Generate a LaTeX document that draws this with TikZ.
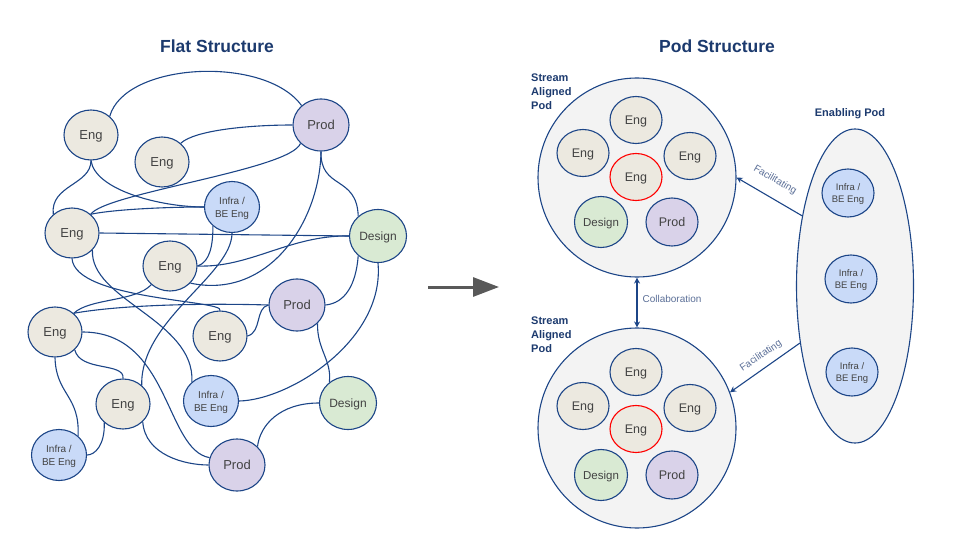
\documentclass[tikz,border=0pt]{standalone}
\usepackage{fontspec}
\setmainfont{Liberation Sans}
\usetikzlibrary{shapes.geometric,arrows.meta}
\definecolor{linkblue}{HTML}{1C4587}
\definecolor{titleblue}{HTML}{1C3A6E}
\definecolor{bodygrey}{HTML}{434343}
\definecolor{labelblue}{HTML}{5B6F97}
\definecolor{engfill}{HTML}{ECE9E0}
\definecolor{prodfill}{HTML}{D9D2E9}
\definecolor{infrafill}{HTML}{C9DAF8}
\definecolor{designfill}{HTML}{D9EAD3}
\definecolor{podfill}{HTML}{F3F3F3}
\tikzset{
  peer/.style={ellipse,draw=linkblue,line width=1.1pt,inner sep=0pt,text=bodygrey,text depth=0pt},
  eng/.style={peer,fill=engfill,minimum width=54pt,minimum height=50pt,font=\fontsize{13}{15}\selectfont},
  prod/.style={peer,fill=prodfill,minimum width=56pt,minimum height=52pt,font=\fontsize{13}{15}\selectfont},
  infra/.style={peer,fill=infrafill,minimum width=55pt,minimum height=51pt,align=center,font=\fontsize{10}{13}\selectfont},
  design/.style={peer,fill=designfill,minimum width=57pt,minimum height=53pt,font=\fontsize{12}{14}\selectfont},
  podeng/.style={eng,minimum width=52pt,minimum height=47pt,font=\fontsize{12.5}{15}\selectfont},
  podprod/.style={prod,minimum width=52pt,minimum height=48pt,font=\fontsize{12.5}{15}\selectfont},
  poddesign/.style={design,minimum width=53pt,minimum height=51pt,font=\fontsize{11.5}{14}\selectfont},
  podinfra/.style={infra,minimum width=52pt,minimum height=48pt,font=\fontsize{9.5}{12.5}\selectfont},
  lead/.style={podeng,draw=red},
  pod/.style={ellipse,draw=linkblue,line width=1.1pt,fill=podfill,inner sep=0pt},
  link/.style={draw=linkblue,line width=1.1pt},
  relation/.style={link,-{Stealth[length=6pt,width=6pt]}},
  title/.style={text=titleblue,font=\fontsize{17.5}{20}\bfseries},
  podname/.style={text=titleblue,align=left,inner sep=0pt,font=\fontsize{11}{14}\bfseries},
  relname/.style={text=labelblue,font=\fontsize{10}{12}\selectfont},
}
\begin{document}
\begin{tikzpicture}[x=1pt,y=-1pt]
  \useasboundingbox (0,0) rectangle (960,540);

  % Titles
  \node[title] (flattitle) at (217,46) {Flat Structure};
  \node[title] (podtitle) at (717,46) {Pod Structure};

  % Flat structure
  \node[eng] (eng1) at (91,135) {Eng};
  \node[eng] (eng2) at (162,162) {Eng};
  \node[eng] (eng3) at (72,233) {Eng};
  \node[eng] (eng4) at (170,266) {Eng};
  \node[eng] (eng5) at (55,332) {Eng};
  \node[eng] (eng6) at (220,336) {Eng};
  \node[eng] (eng7) at (123,404) {Eng};
  \node[prod] (prod1) at (321,125) {Prod};
  \node[prod] (prod2) at (297,305) {Prod};
  \node[prod] (prod3) at (237,465) {Prod};
  \node[infra] (infra1) at (232,207) {Infra /\\BE Eng};
  \node[infra] (infra2) at (211,401) {Infra /\\BE Eng};
  \node[infra] (infra3) at (59,455) {Infra /\\BE Eng};
  \node[design] (design1) at (378,236) {Design};
  \node[design] (design2) at (348,403) {Design};

  % Flat links, top of the picture
  \draw[link] (eng1.45) .. controls (125,62) and (265,55) .. (prod1.135);
  \draw[link] (eng2.45) .. controls (195,130) and (250,125) .. (prod1.west);
  \draw[link] (eng3.45) .. controls (105,193) and (290,170) .. (prod1.222);
  \draw[link] (eng1.south) .. controls (91,185) and (50,185) .. (eng3.135);
  \draw[link] (eng1.south) .. controls (95,190) and (160,207) .. (infra1.west);
  \draw[link] (eng3.45) .. controls (110,210) and (160,207) .. (infra1.west);
  \draw[link] (prod1.south) .. controls (320,190) and (357,175) .. (design1.135);
  % Flat links, middle
  \draw[link] (eng3.east) -- (design1.west);
  \draw[link] (eng3.south) .. controls (75,300) and (225,300) .. (eng6.north);
  \draw[link] (eng3.-40) .. controls (90,300) and (195,320) .. (infra2.135);
  \draw[link] (eng4.east) .. controls (250,268) and (290,235) .. (design1.west);
  \draw[link] (eng4.east) .. controls (210,262) and (213,245) .. (infra1.225);
  \draw[link] (eng4.-40) .. controls (270,300) and (320,220) .. (prod1.south);
  \draw[link] (infra1.south) .. controls (232,275) and (140,320) .. (eng7.45);
  \draw[link] (design1.225) .. controls (356,285) and (345,303) .. (prod2.east);
  \draw[link] (design1.south) .. controls (385,340) and (290,400) .. (infra2.east);
  \draw[link] (prod2.west) .. controls (200,303) and (120,305) .. (eng5.45);
  \draw[link] (eng4.225) .. controls (135,302) and (90,298) .. (eng5.45);
  \draw[link] (eng6.east) .. controls (262,332) and (255,308) .. (prod2.west);
  % Flat links, bottom
  \draw[link] (prod2.-42) .. controls (317,350) and (332,360) .. (design2.132);
  \draw[link] (design2.west) .. controls (280,403) and (260,425) .. (prod3.42);
  \draw[link] (eng5.east) .. controls (170,332) and (165,450) .. (prod3.165);
  \draw[link] (eng5.-42) .. controls (80,372) and (125,362) .. (eng7.north);
  \draw[link] (eng5.south) .. controls (56,395) and (80,395) .. (infra3.45);
  \draw[link] (eng7.225) .. controls (105,445) and (95,455) .. (infra3.east);
  \draw[link] (eng7.-42) .. controls (145,455) and (185,465) .. (prod3.west);

  % Arrow between the two halves
  \coordinate (flatend) at (428,287);
  \coordinate (podstart) at (499,287);
  \draw[draw=black!65,fill=black!65,line width=3pt,-{Triangle[length=26pt,width=19pt]}] (flatend) -- (podstart);

  % Stream aligned pods
  \node[pod,minimum width=198pt,minimum height=199pt] (pod1) at (637,177.5) {};
  \node[pod,minimum width=198pt,minimum height=200pt] (pod2) at (637,428) {};
  \node[podname,anchor=west] (pod1name) at (531,92) {Stream\\Aligned\\Pod};
  \node[podname,anchor=west] (pod2name) at (531,335) {Stream\\Aligned\\Pod};

  \node[podeng] (upper1) at (636,120) {Eng};
  \node[podeng] (upper2) at (583,153) {Eng};
  \node[podeng] (upper3) at (690,156) {Eng};
  \node[lead] (upper4) at (636,177) {Eng};
  \node[poddesign] (upper5) at (601,222) {Design};
  \node[podprod] (upper6) at (672,222) {Prod};

  \node[podeng] (lower1) at (636,372) {Eng};
  \node[podeng] (lower2) at (583,406) {Eng};
  \node[podeng] (lower3) at (690,408) {Eng};
  \node[lead] (lower4) at (636,429) {Eng};
  \node[poddesign] (lower5) at (601,475) {Design};
  \node[podprod] (lower6) at (672,475) {Prod};

  % Enabling pod
  \node[pod,minimum width=117pt,minimum height=314pt] (enabling) at (855,286) {};
  \node[podname] (enablingname) at (850,113.5) {Enabling Pod};
  \node[podinfra] (enable1) at (848,193) {Infra /\\BE Eng};
  \node[podinfra] (enable2) at (851,279) {Infra /\\BE Eng};
  \node[podinfra] (enable3) at (852,372) {Infra /\\BE Eng};

  % Relations between pods
  \draw[relation,{Stealth[length=6pt,width=6pt]}-{Stealth[length=6pt,width=6pt]}] (pod1.south) -- (pod2.north);
  \draw[relation] (enabling.127.5) -- (pod1.east);
  \draw[relation] (enabling.226) -- (pod2.21);
  \node[relname] (collab) at (672,298.5) {Collaboration};
  \node[relname,rotate=-30] (facil1) at (775,180) {Facilitating};
  \node[relname,rotate=34] (facil2) at (761,356) {Facilitating};
\end{tikzpicture}
\end{document}
